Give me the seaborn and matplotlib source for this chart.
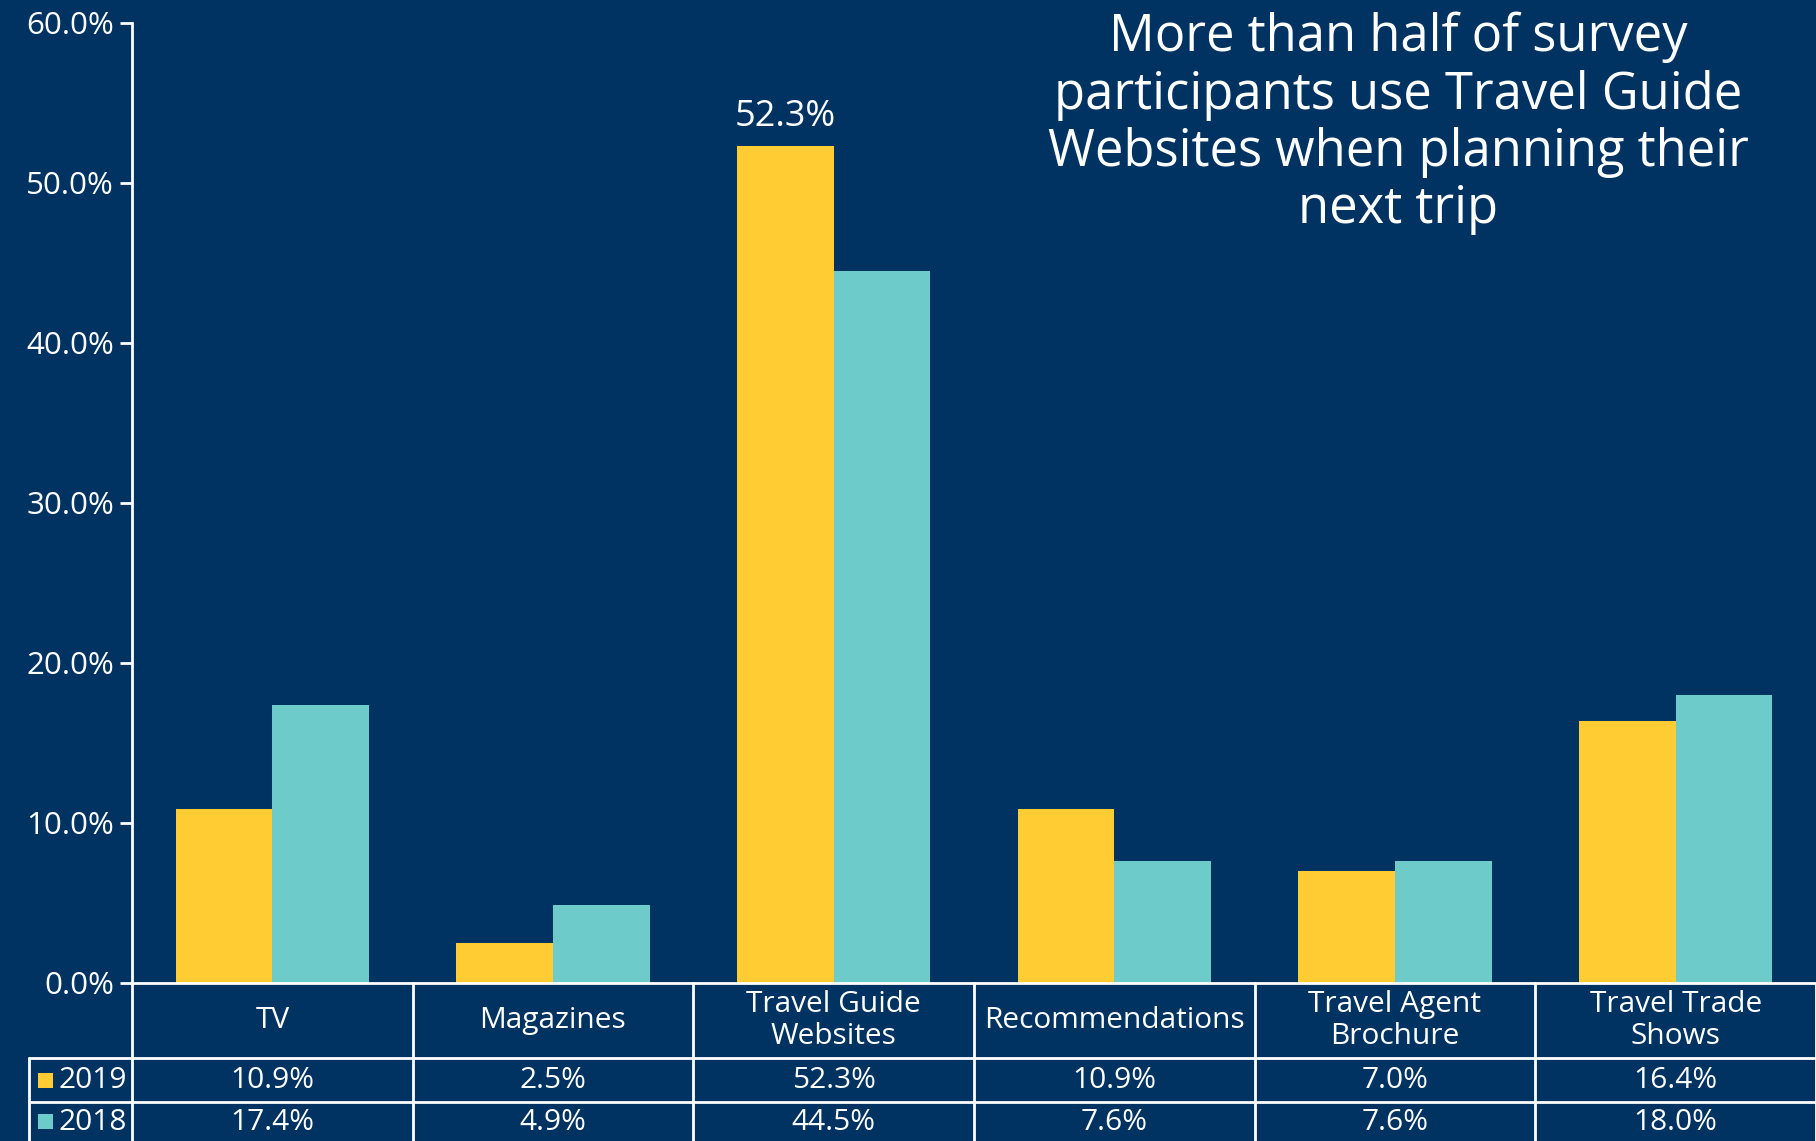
import matplotlib
matplotlib.use("Agg")
import matplotlib.pyplot as plt
import seaborn as sns
import pandas as pd
from matplotlib.ticker import PercentFormatter
from matplotlib.lines import Line2D
from matplotlib.patches import Rectangle

categories = ["TV", "Magazines", "Travel Guide\nWebsites", "Recommendations",
              "Travel Agent\nBrochure", "Travel Trade\nShows"]
years = ["2019", "2018"]
values_2019 = [10.9, 2.5, 52.3, 10.9, 7.0, 16.4]
values_2018 = [17.4, 4.9, 44.5, 7.6, 7.6, 18.0]
yticks = [0, 10, 20, 30, 40, 50, 60]
title = "More than half of survey\nparticipants use Travel Guide\nWebsites when planning their\nnext trip"

BG = "#003361"
YELLOW = "#FFCC33"
TEAL = "#6DCBC9"
WHITE = "#FFFFFF"

sns.set_theme(style="white")
plt.rcParams["font.family"] = ["Open Sans", "DejaVu Sans"]

df = pd.DataFrame({
    "category": categories * 2,
    "year": [years[0]] * len(categories) + [years[1]] * len(categories),
    "value": values_2019 + values_2018,
})

W, H = 1816, 1141
fig = plt.figure(figsize=(W / 100, H / 100), dpi=100, facecolor=BG)
x0, x1, ytop, y0 = 132, 1816, 23, 983
ax = fig.add_axes([x0 / W, (H - y0) / H, (x1 - x0) / W, (y0 - ytop) / H])
ax.set_facecolor(BG)

sns.barplot(data=df, x="category", y="value", hue="year", order=categories,
            hue_order=years, palette=[YELLOW, TEAL], width=0.69, gap=0,
            saturation=1, ax=ax, legend=False, linewidth=0)

ax.set_xlim(-0.5, len(categories) - 0.5)
ax.set_ylim(0, 60)
ax.set_yticks(yticks)
ax.yaxis.set_major_formatter(PercentFormatter(decimals=1))
ax.tick_params(axis="y", colors=WHITE, labelsize=22.5, length=9, width=2, direction="out", pad=4, left=True)
ax.tick_params(axis="x", bottom=False, labelbottom=False)
for lab in ax.get_yticklabels():
    lab.set_color(WHITE)
ax.set_xlabel("")
ax.set_ylabel("")
for s in ["top", "right"]:
    ax.spines[s].set_visible(False)
ax.spines["left"].set_color(WHITE)
ax.spines["left"].set_linewidth(2)
ax.spines["bottom"].set_color(WHITE)
ax.spines["bottom"].set_linewidth(2)

# data label above the largest bar
imax = values_2019.index(max(values_2019))
bar = ax.containers[0][imax]
ax.annotate(f"{values_2019[imax]:.1f}%", (bar.get_x() + bar.get_width() / 2, bar.get_height()),
            xytext=(0, 8), textcoords="offset points", ha="center", va="bottom",
            color=WHITE, fontsize=26)

# title text
fig.text(1398 / W, 1 - 12 / H, title, ha="center", va="top", color=WHITE,
         fontsize=36.5, linespacing=1.16)

# data table below the axis
n = len(categories)
yb_head = 1058
yb_r1 = 1102
yb_r2 = 1141
legend_left = 29

def fy(py):
    return 1 - py / H

def fx_data(xd):
    disp = ax.transData.transform((xd, 0))
    return fig.transFigure.inverted().transform(disp)[0]

lw = 2
for py, left in [(yb_head, legend_left), (yb_r1, legend_left)]:
    fig.add_artist(Line2D([left / W, 1], [fy(py), fy(py)], color=WHITE, lw=lw))
for i in range(n + 1):
    xf = fx_data(i - 0.5)
    fig.add_artist(Line2D([xf, xf], [fy(y0), fy(H)], color=WHITE, lw=lw))
fig.add_artist(Line2D([legend_left / W, legend_left / W], [fy(yb_head), fy(H)], color=WHITE, lw=lw))

for i, c in enumerate(categories):
    fig.text(fx_data(i), fy((y0 + yb_head) / 2), c, ha="center", va="center",
             color=WHITE, fontsize=21.5, linespacing=1.15)
for vals, (ya, yb) in [(values_2019, (yb_head, yb_r1)), (values_2018, (yb_r1, yb_r2))]:
    for i, v in enumerate(vals):
        fig.text(fx_data(i), fy((ya + yb) / 2 + 1), f"{v:.1f}%", ha="center", va="center",
                 color=WHITE, fontsize=21.5)
for yr, col, (ya, yb) in [(years[0], YELLOW, (yb_head, yb_r1)), (years[1], TEAL, (yb_r1, yb_r2))]:
    ym = (ya + yb) / 2
    sq = 15
    fig.add_artist(Rectangle((38 / W, fy(ym + sq / 2)), sq / W, sq / H,
                             transform=fig.transFigure, color=col, lw=0))
    fig.text(58 / W, fy(ym + 1), yr, ha="left", va="center", color=WHITE, fontsize=21.5)

fig.savefig("out.png", dpi=100, facecolor=BG)
